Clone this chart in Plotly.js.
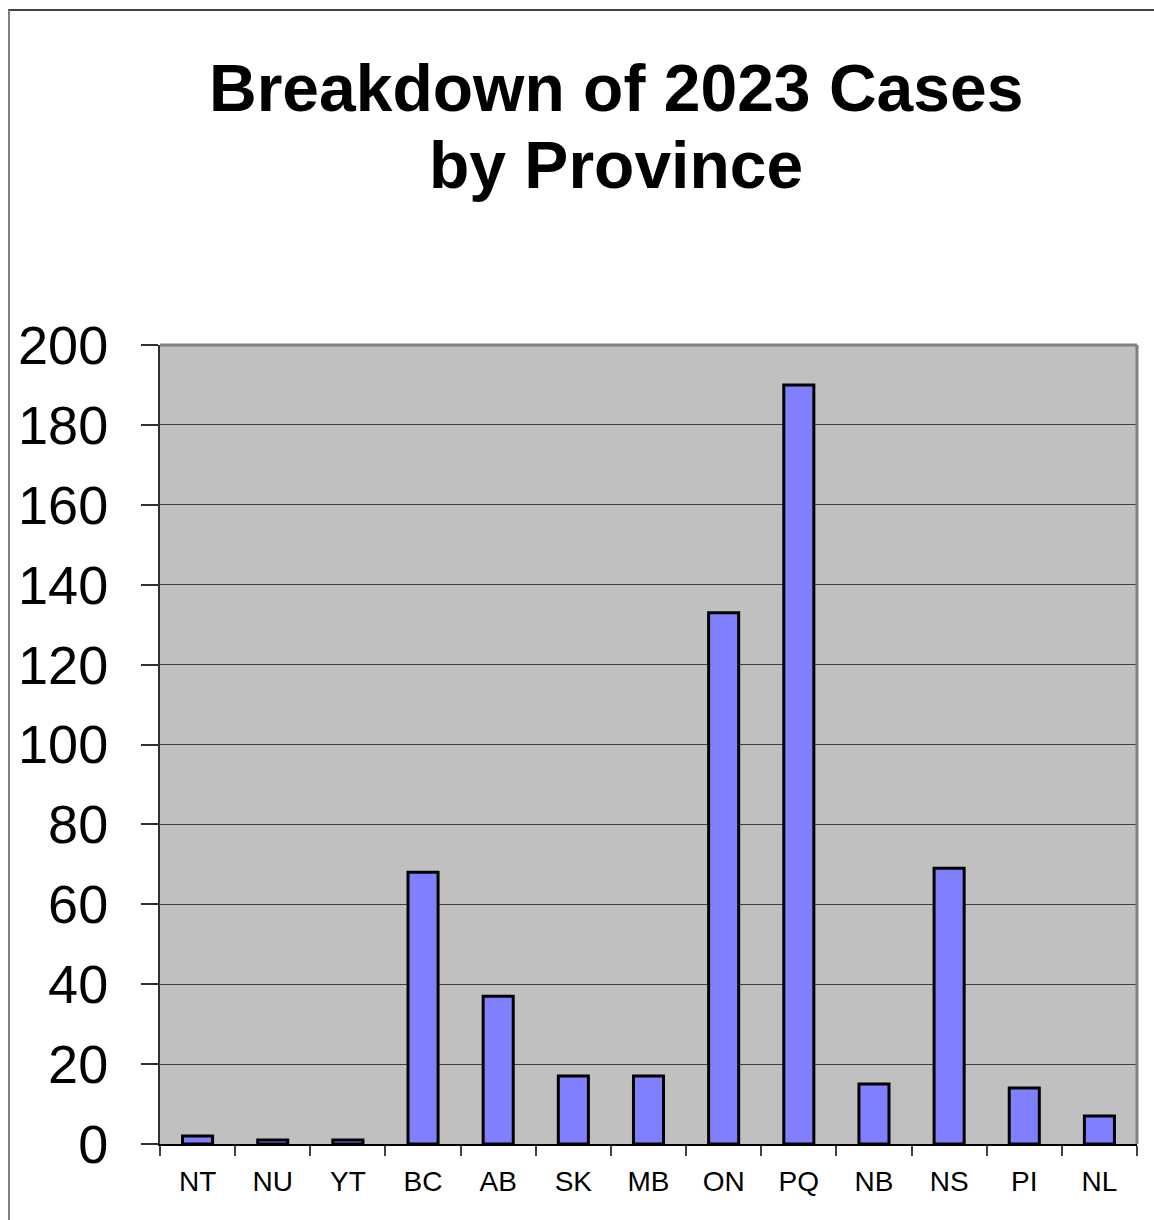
<!DOCTYPE html>
<html>
<head>
<meta charset="utf-8">
<script src="https://cdn.plot.ly/plotly-3.0.1.min.js"></script>
<style>
  html, body { margin: 0; padding: 0; background: #fff; }
  #wrap { position: relative; width: 1154px; height: 1220px; }
  #chart { position: absolute; left: 0; top: 0; width: 1154px; height: 1220px; }
  #frame { position: absolute; left: 8px; top: 9px; width: 1146px; height: 1211px;
           border-top: 2px solid #404040; border-left: 2px solid #808080; box-sizing: border-box; pointer-events: none; }
</style>
</head>
<body>
<div id="wrap">
  <div id="chart"></div>
  <div id="frame"></div>
</div>
<script>
const provinces = ["NT", "NU", "YT", "BC", "AB", "SK", "MB", "ON", "PQ", "NB", "NS", "PI", "NL"];
const cases = [2, 1, 1, 68, 37, 17, 17, 133, 190, 15, 69, 14, 7];
const yTicks = [0, 20, 40, 60, 80, 100, 120, 140, 160, 180, 200];
const titleLines = ["Breakdown of 2023 Cases", "by Province"];

const titleFont = { family: "Liberation Sans, Arial, sans-serif", size: 66, color: "#000000", weight: "bold" };

const trace = {
  type: "bar",
  x: provinces,
  y: cases,
  marker: { color: "#8080FF", line: { color: "#000000", width: 3 } },
  hoverinfo: "x+y"
};

const layout = {
  width: 1154,
  height: 1220,
  paper_bgcolor: "rgba(0,0,0,0)",
  plot_bgcolor: "#C0C0C0",
  margin: { l: 160, r: 17, t: 345, b: 76, pad: 0 },
  bargap: 0.6,
  showlegend: false,
  annotations: [
    { text: titleLines[0], xref: "paper", yref: "paper", x: 0.467, y: 1.3217, xanchor: "center", yanchor: "middle",
      showarrow: false, font: titleFont },
    { text: titleLines[1], xref: "paper", yref: "paper", x: 0.467, y: 1.2253, xanchor: "center", yanchor: "middle",
      showarrow: false, font: titleFont }
  ],
  xaxis: {
    type: "category",
    tickson: "boundaries",
    ticks: "outside",
    ticklen: 10,
    tickwidth: 2,
    tickcolor: "#404040",
    showgrid: false,
    showline: true,
    linecolor: "#000000",
    linewidth: 2,
    tickfont: { family: "Liberation Sans, Arial, sans-serif", size: 28, color: "#000000" },
    ticklabelstandoff: 11,
    fixedrange: true
  },
  yaxis: {
    range: [0, 200],
    tickvals: yTicks,
    ticktext: yTicks.map(String),
    ticks: "outside",
    ticklen: 17,
    tickwidth: 2,
    tickcolor: "#303030",
    showgrid: true,
    gridcolor: "#404040",
    gridwidth: 1,
    zeroline: false,
    showline: true,
    linecolor: "#303030",
    linewidth: 2,
    tickfont: { family: "Liberation Sans, Arial, sans-serif", size: 54, color: "#000000" },
    ticklabelstandoff: 22,
    fixedrange: true
  },
  shapes: [
    { type: "line", xref: "paper", yref: "paper", x0: 0, x1: 1, y0: 1, y1: 1, line: { color: "#808080", width: 3 } },
    { type: "line", xref: "paper", yref: "paper", x0: 1, x1: 1, y0: 0, y1: 1, line: { color: "#808080", width: 3 } }
  ]
};

Plotly.newPlot("chart", [trace], layout, { displayModeBar: false, staticPlot: true });
</script>
</body>
</html>
